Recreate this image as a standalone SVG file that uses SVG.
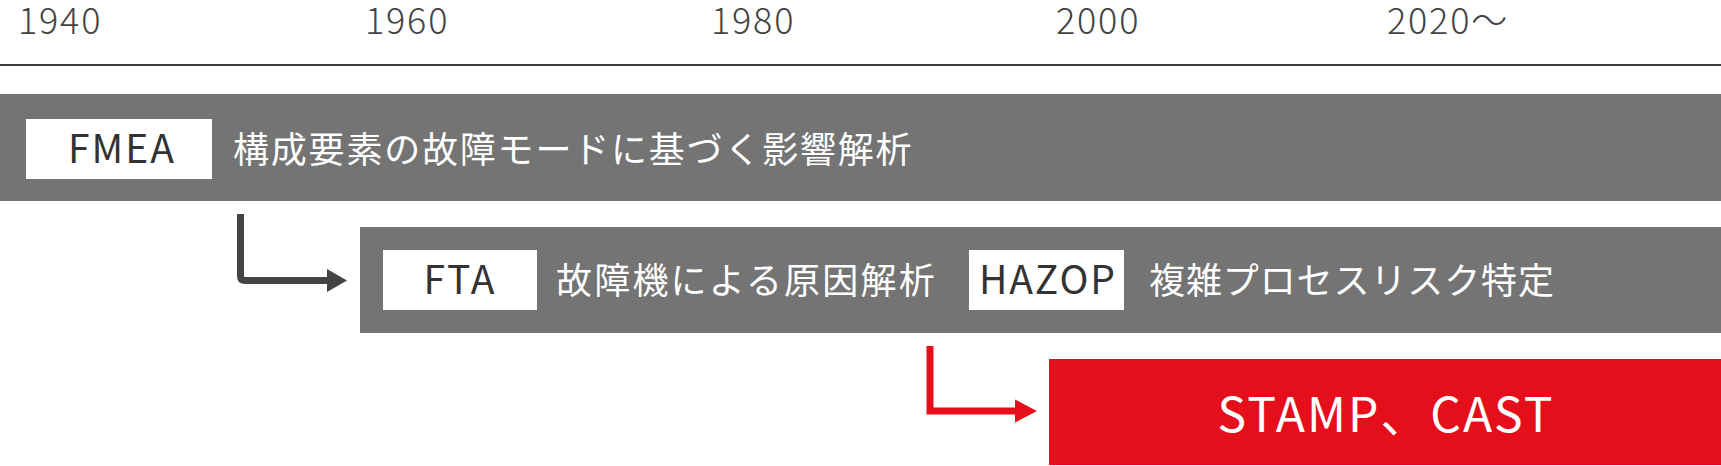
<svg xmlns="http://www.w3.org/2000/svg" width="1721" height="466" viewBox="0 0 1721 466">
<style>
text{font-family:"Noto Sans CJK JP","Noto Sans",sans-serif}
.yr{font-size:36px;font-weight:300;fill:#444;letter-spacing:1.8px}
.bar{fill:#737473}
.tag{fill:#fff}
.tagt{font-size:39px;font-weight:400;fill:#333;text-anchor:middle;letter-spacing:2px}
.jp{font-size:36px;font-weight:400;fill:#fff;letter-spacing:1.8px}
.big{font-size:48px;font-weight:400;fill:#fff;text-anchor:middle;letter-spacing:2px}
</style>
<rect width="1721" height="466" fill="#fff"/>
<g id="timeline">
<line x1="0" y1="65" x2="1721" y2="65" stroke="#3d3d3d" stroke-width="2"/>
<text class="yr" x="18" y="34">1940</text>
<text class="yr" x="365" y="34">1960</text>
<text class="yr" x="711" y="34">1980</text>
<text class="yr" x="1056" y="34">2000</text>
<text class="yr" x="1387" y="34">2020～</text>
</g>
<g id="fmea">
<rect class="bar" x="0" y="94" width="1721" height="107"/>
<rect class="tag" x="26" y="119" width="186" height="60"/>
<text class="tagt" x="122" y="163">FMEA</text>
<text class="jp" x="233" y="163">構成要素の故障モードに基づく影響解析</text>
</g>
<g id="fta-hazop">
<rect class="bar" x="360" y="227" width="1361" height="106"/>
<rect class="tag" x="383" y="250" width="154" height="60"/>
<text class="tagt" x="460" y="294">FTA</text>
<text class="jp" x="556" y="294" style="letter-spacing:2.2px">故障機による原因解析</text>
<rect class="tag" x="969" y="250" width="155" height="60"/>
<text class="tagt" x="1048" y="294">HAZOP</text>
<text class="jp" x="1149" y="294" style="letter-spacing:0.9px">複雑プロセスリスク特定</text>
</g>
<g id="stamp">
<rect x="1049" y="359" width="672" height="106" fill="#e50f1c"/>
<text class="big" x="1386" y="432">STAMP、CAST</text>
</g>
<g id="connectors">
<path d="M240.5,214 V276 Q240.5,280.5 245,280.5 H330" fill="none" stroke="#444" stroke-width="7"/>
<polygon points="327,269 347,280.5 327,292" fill="#444"/>
<path d="M930,346 V411 H1017" fill="none" stroke="#e50f1c" stroke-width="7"/>
<polygon points="1015,399.5 1037,411 1015,422.5" fill="#e50f1c"/>
</g>
</svg>
